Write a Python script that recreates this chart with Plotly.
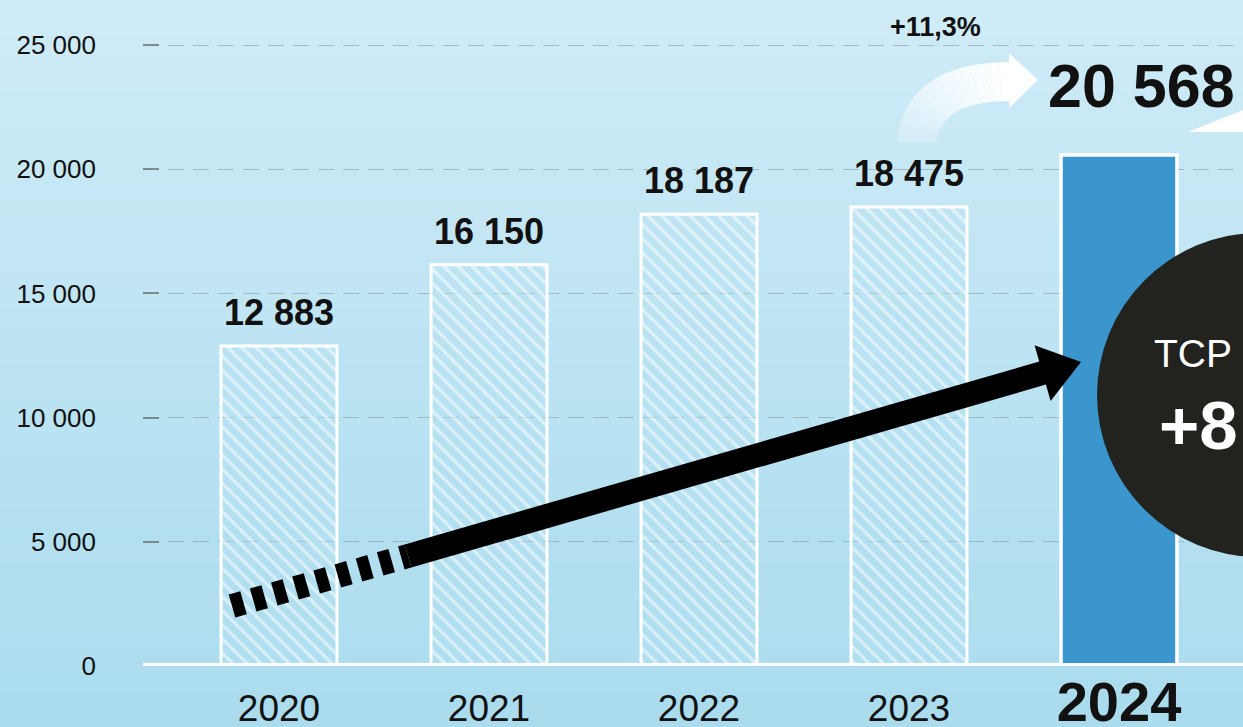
import math
import plotly.graph_objects as go

years = ["2020", "2021", "2022", "2023", "2024"]
values = [12883, 16150, 18187, 18475, 20568]
y_ticks = [0, 5000, 10000, 15000, 20000, 25000]
growth_label = "+11,3%"
cagr_title = "TCP"
cagr_value = "+8"

W, H = 1243, 727
L, R, T, B = 143, 0, 8, 61
PW, PH = W - L - R, H - T - B
Y0PX = H - B  # pixel row of y = 0
PX_PER_UNIT = 621 / 25000
YMAX = PH / PX_PER_UNIT


def px(x, y):
    return (x - L) / PW, (Y0PX - y) / PH


def path(points):
    s = ""
    for i, (x, y) in enumerate(points):
        a, b = px(x, y)
        s += ("M" if i == 0 else "L") + f"{a:.5f},{b:.5f} "
    return s + "Z"


def bez(p0, p1, p2, n):
    out = []
    for i in range(n + 1):
        t = i / n
        x = (1 - t) ** 2 * p0[0] + 2 * (1 - t) * t * p1[0] + t ** 2 * p2[0]
        y = (1 - t) ** 2 * p0[1] + 2 * (1 - t) * t * p1[1] + t ** 2 * p2[1]
        out.append((x, y))
    return out


shapes = []
# background gradient bands
top_c = (207, 235, 247)
bot_c = (170, 220, 238)
N = 40
for i in range(N):
    t = i / (N - 1)
    c = tuple(int(round(top_c[k] + (bot_c[k] - top_c[k]) * t)) for k in range(3))
    y0 = H * i / N
    y1 = H * (i + 1) / N + 1
    a0, b0 = px(0, y0)
    a1, b1 = px(W, y1)
    shapes.append(dict(type="rect", xref="paper", yref="paper", x0=a0, x1=a1, y0=b1, y1=b0,
                       fillcolor=f"rgb{c}", line=dict(width=0), layer="below"))

# white baseline
shapes.append(dict(type="line", xref="paper", yref="y", x0=0, x1=1, y0=0, y1=0,
                   line=dict(color="white", width=6), layer="above"))

# black arrow: dashed tail
xa0, ya0 = px(232, 606)
xa1, ya1 = px(408, 556)
shapes.append(dict(type="line", xref="paper", yref="paper", x0=xa0, y0=ya0, x1=xa1, y1=ya1,
                   line=dict(color="black", width=24, dash="12px,10px"), layer="above"))

# black arrow: solid shaft + head
sx, sy = 408, 556
tx, ty = 1081, 362
dx, dy = tx - sx, ty - sy
ln = math.hypot(dx, dy)
ux, uy = dx / ln, dy / ln
nx, ny = -uy, ux
hw = 12
head_len, head_hw = 40, 29
bx, by = tx - ux * head_len, ty - uy * head_len
pts = [
    (sx + nx * hw, sy + ny * hw),
    (bx + nx * hw, by + ny * hw),
    (bx + nx * head_hw, by + ny * head_hw),
    (tx, ty),
    (bx - nx * head_hw, by - ny * head_hw),
    (bx - nx * hw, by - ny * hw),
    (sx - nx * hw, sy - ny * hw),
]
shapes.append(dict(type="path", xref="paper", yref="paper", path=path(pts),
                   fillcolor="black", line=dict(width=0), layer="above"))

# white curved arrow (growth), fading towards its tail
NSEG = 18
outer = bez((897, 142), (905, 63), (1010, 62), NSEG)
inner = bez((936, 142), (942, 101), (1010, 101), NSEG)
for i in range(NSEG):
    op = 0.10 + 0.87 * ((i + 1) / NSEG) ** 0.7
    quad = [outer[i], outer[i + 1], inner[i + 1], inner[i]]
    shapes.append(dict(type="path", xref="paper", yref="paper", path=path(quad),
                       fillcolor=f"rgba(255,255,255,{op:.3f})", line=dict(width=0), layer="above"))
shapes.append(dict(type="path", xref="paper", yref="paper",
                   path=path([(1009, 53), (1038, 80), (1009, 108)]),
                   fillcolor="rgba(255,255,255,0.97)", line=dict(width=0), layer="above"))
# white wedge at top right
shapes.append(dict(type="path", xref="paper", yref="paper",
                   path=path([(1188, 132), (1243, 110), (1243, 132)]),
                   fillcolor="white", line=dict(width=0), layer="above"))

# dark circle
c0 = px(1097, 557)
c1 = px(1421, 233)
shapes.append(dict(type="circle", xref="paper", yref="paper", x0=c0[0], y0=c0[1], x1=c1[0], y1=c1[1],
                   fillcolor="#22221f", line=dict(width=0), layer="above"))

fig = go.Figure()
fig.add_trace(go.Bar(
    x=years[:4], y=values[:4],
    marker=dict(color="rgba(176,222,240,0.35)",
                line=dict(color="white", width=3),
                pattern=dict(shape="\\", fgcolor="white", bgcolor="rgba(176,222,240,0.35)",
                             size=10, solidity=0.33)),
    hoverinfo="skip",
))
fig.add_trace(go.Bar(
    x=years[4:], y=values[4:],
    marker=dict(color="#3a96cc", line=dict(color="white", width=3.5)),
    hoverinfo="skip",
))

annotations = []
for i, v in enumerate(values[:4]):
    annotations.append(dict(x=i, y=v, xref="x", yref="y", text=f"<b>{v:,}</b>".replace(",", " "),
                            showarrow=False, yanchor="bottom", yshift=11,
                            font=dict(family="Liberation Sans", size=36, color="#111")))
annotations.append(dict(x=4, y=values[4], xref="x", yref="y",
                        text=f"<b>{values[4]:,}</b>".replace(",", " "),
                        showarrow=False, yanchor="bottom", yshift=33, xshift=22,
                        font=dict(family="Liberation Sans", size=61, color="#111")))
gx, gy = px(935, 27)
annotations.append(dict(x=gx, y=gy, xref="paper", yref="paper", text=f"<b>{growth_label}</b>",
                        xanchor="center", yanchor="middle",
                        showarrow=False, font=dict(family="Liberation Sans", size=27, color="#111")))
tx1, ty1 = px(1152, 353)
annotations.append(dict(x=tx1, y=ty1, xref="paper", yref="paper", text=cagr_title, xanchor="left",
                        yanchor="middle",
                        showarrow=False, font=dict(family="Liberation Sans", size=39, color="white")))
tx2, ty2 = px(1157, 425)
annotations.append(dict(x=tx2, y=ty2, xref="paper", yref="paper", text=f"<b>{cagr_value}</b>", xanchor="left",
                        yanchor="middle",
                        showarrow=False, font=dict(family="Liberation Sans", size=69, color="white")))

ticktext = years[:4] + [f"<b><span style='font-size:56px'>{years[4]}</span></b>"]

fig.update_layout(
    width=W, height=H,
    margin=dict(l=L, r=R, t=T, b=B, autoexpand=False),
    paper_bgcolor="rgb(188,227,242)",
    plot_bgcolor="rgba(0,0,0,0)",
    separators=", ",
    showlegend=False,
    barmode="overlay",
    bargap=0.448,
    shapes=shapes,
    annotations=annotations,
    font=dict(family="Liberation Sans", color="#111"),
    xaxis=dict(type="category", categoryorder="array", categoryarray=years,
               range=[-(279 - L) / 210, (W - 279) / 210],
               tickvals=years, ticktext=ticktext,
               tickfont=dict(family="Liberation Sans", size=37, color="#111"),
               showgrid=False, zeroline=False, showline=False, ticks="",
               ticklabelstandoff=17),
    yaxis=dict(range=[0, YMAX], tickvals=y_ticks, tickformat=",",
               tickfont=dict(family="Liberation Sans", size=26, color="#111"),
               showgrid=True, gridcolor="rgba(120,130,140,0.45)", gridwidth=1, griddash="16px,9px",
               zeroline=False, showline=False,
               ticks="inside", ticklen=16, tickcolor="rgba(110,120,125,0.8)", tickwidth=1.5,
               ticklabelstandoff=46),
)

fig.write_html("out.html", config={"displayModeBar": False},
               post_script="document.body.style.margin='0';document.body.style.overflow='hidden';")
